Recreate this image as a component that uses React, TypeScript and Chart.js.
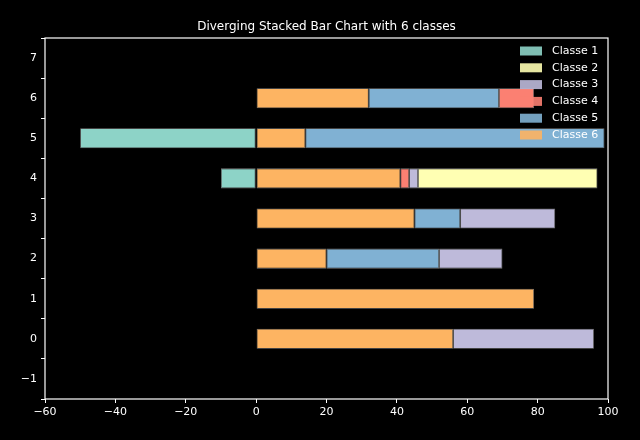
import React, { useEffect, useRef } from "react";
import { Chart, registerables } from "chart.js";
Chart.register(...registerables);

const rows = [0, 1, 2, 3, 4, 5, 6];
const classNames = ["Classe 1", "Classe 2", "Classe 3", "Classe 4", "Classe 5", "Classe 6"];
const colors = ["#8dd3c7", "#ffffb3", "#bebada", "#fb8072", "#80b1d3", "#fdb462"];
const classe1 = [0, 0, 0, 0, -10, -50, 0];
const classe2 = [0, 0, 0, 0, 51, 0, 0];
const classe3 = [40, 0, 18, 27, 2.5, 0, 0];
const classe4 = [0, 0, 0, 0, 2.5, 0, 10];
const classe5 = [0, 0, 32, 13, 0, 85, 37];
const classe6 = [56, 79, 20, 45, 41, 14, 32];
const title = "Diverging Stacked Bar Chart with 6 classes";
const FONT = "DejaVu Sans";

export default function App() {
  const ref = useRef<HTMLCanvasElement>(null);
  useEffect(() => {
    document.body.style.margin = "0";
    document.body.style.background = "#000";
    const series = [classe1, classe2, classe3, classe4, classe5, classe6];
    const order = [5, 4, 3, 2, 1, 0];
    const datasets = order.map((i) => ({
      label: classNames[i],
      data: rows.map((r) => ({ x: series[i][r], y: r })),
      backgroundColor: colors[i],
      borderColor: "rgba(200,200,200,0.6)",
      borderWidth: 0.8,
      borderSkipped: false as any,
      barPercentage: 0.5,
      categoryPercentage: 1,
    }));
    const deco = {
      id: "deco",
      afterDraw(c: any) {
        const ctx = c.ctx;
        const a = c.chartArea;
        ctx.save();
        ctx.strokeStyle = "#fff";
        ctx.lineWidth = 1.2;
        ctx.strokeRect(a.left, a.top, a.right - a.left, a.bottom - a.top);
        ctx.fillStyle = "#fff";
        ctx.font = `12px "${FONT}"`;
        ctx.textAlign = "center";
        ctx.textBaseline = "alphabetic";
        ctx.fillText(title, (a.left + a.right) / 2, a.top - 8);
        ctx.font = `11px "${FONT}"`;
        ctx.textAlign = "left";
        ctx.textBaseline = "middle";
        for (let i = 0; i < 6; i++) {
          const y = 51 + i * 16.8;
          ctx.globalAlpha = 0.9;
          ctx.fillStyle = colors[i];
          ctx.fillRect(520, y - 4.5, 22, 9);
          ctx.globalAlpha = 1;
          ctx.fillStyle = "#fff";
          ctx.fillText(classNames[i], 552, y);
        }
        ctx.restore();
      },
    };
    const tick = { color: "#fff", font: { family: FONT, size: 11 } };
    const grid = { display: true, drawOnChartArea: false, color: "#fff", tickLength: 4 };
    const chart = new Chart(ref.current!, {
      type: "bar",
      data: { datasets },
      options: {
        animation: false,
        responsive: false,
        indexAxis: "y",
        layout: { padding: { top: 38, right: 32, left: 0, bottom: 0 } },
        plugins: { legend: { display: false }, tooltip: { enabled: false } },
        scales: {
          x: {
            type: "linear", stacked: true, min: -60, max: 100,
            ticks: { ...tick, stepSize: 20, padding: 3, callback: (v: any) => (v < 0 ? "\u2212" + Math.abs(v) : String(v)) },
            grid, border: { display: false },
            afterFit: (s: any) => { s.height = 41; },
          },
          y: {
            type: "linear", stacked: true, min: -1, max: 7,
            ticks: { ...tick, stepSize: 1, padding: 4, callback: (v: any) => (v < 0 ? "\u2212" + Math.abs(v) : String(v)) },
            grid, border: { display: false },
            afterFit: (s: any) => { s.width = 45; },
          },
        },
      } as any,
      plugins: [deco],
    });
    return () => chart.destroy();
  }, []);
  return <canvas ref={ref} width={640} height={440} style={{ display: "block", background: "#000" }} />;
}
